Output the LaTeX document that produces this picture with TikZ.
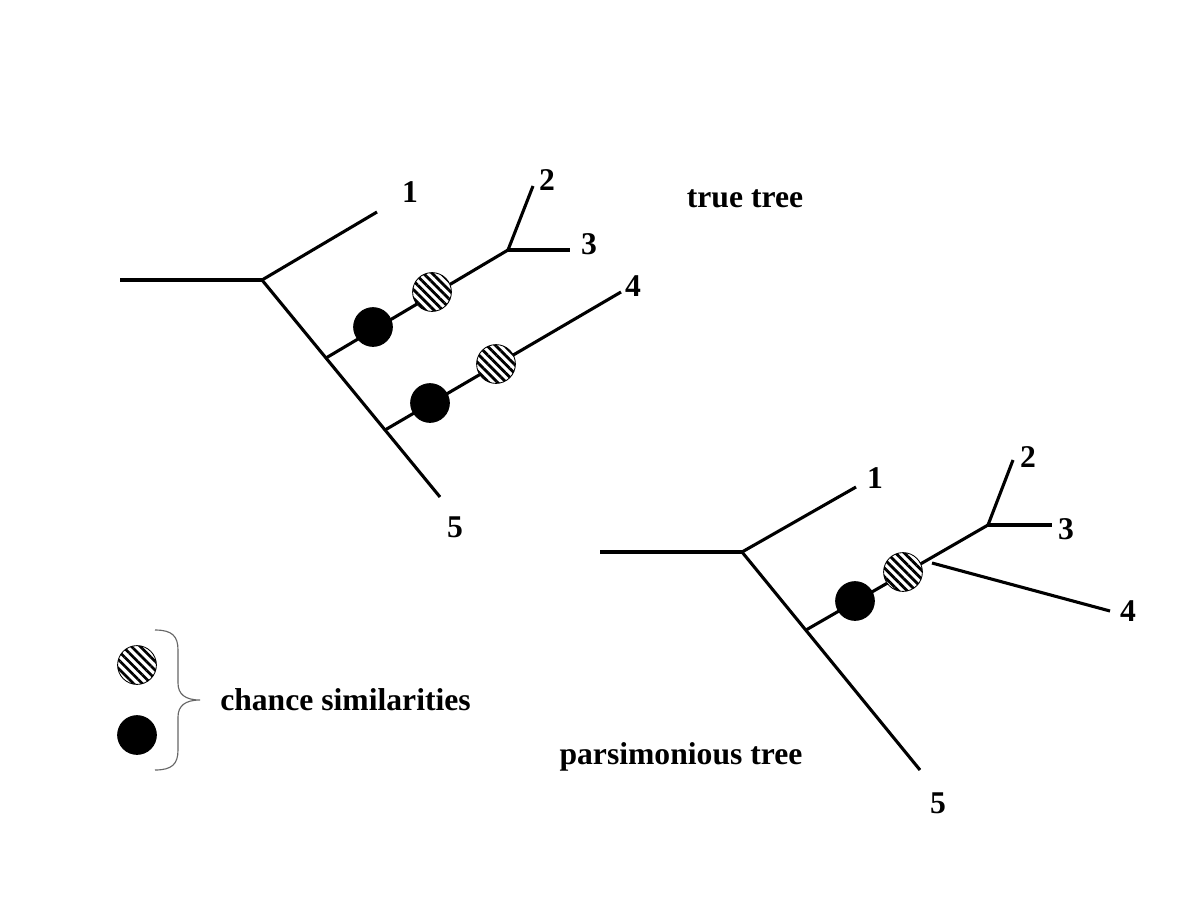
\documentclass[tikz,border=0pt]{standalone}
\usepackage{fontspec}
\setmainfont{Liberation Serif}
\usetikzlibrary{patterns.meta}
\begin{document}
\begin{tikzpicture}[x=0.025cm,y=-0.025cm,
  branch/.style={line width=2.2pt, line cap=butt},
  solidmark/.style={circle, fill=black, draw=black, line width=0.6pt, minimum size=0.97cm, inner sep=0pt},
  hatchmark/.style={circle, draw=black, line width=0.6pt, fill=white, minimum size=0.97cm, inner sep=0pt,
     postaction={pattern={Lines[angle=-45, distance=4.4pt, line width=2pt]}, pattern color=black}},
  lbl/.style={font=\fontsize{22.5}{26}\selectfont\bfseries, inner sep=0pt},
  brace/.style={draw=black!60, line width=0.8pt}]
\useasboundingbox (0,0) rectangle (1200,900);

% ---------- true tree ----------
\coordinate (tr0) at (120,280);
\coordinate (tr) at (262,280);
\coordinate (t1) at (377,212);
\coordinate (t5) at (440,497);
\coordinate (ta) at (326,358);
\coordinate (tn) at (508,250);
\coordinate (t2) at (533,186);
\coordinate (t3) at (570,250);
\coordinate (tb) at (385,430);
\coordinate (t4) at (621,292);
\draw[branch] (tr0) -- (tr);
\draw[branch] (tr) -- (t1);
\draw[branch] (tr) -- (t5);
\draw[branch] (ta) -- (tn);
\draw[branch] (tn) -- (t2);
\draw[branch] (tn) -- (t3);
\draw[branch] (tb) -- (t4);
\node[solidmark] (tsa) at (373,327) {};
\node[hatchmark] (tha) at (432,292) {};
\node[solidmark] (tsb) at (430,403) {};
\node[hatchmark] (thb) at (496,364) {};
\node[lbl] (tl1) at (410,192) {1};
\node[lbl] (tl2) at (547,180) {2};
\node[lbl] (tl3) at (589,244) {3};
\node[lbl] (tl4) at (633,286) {4};
\node[lbl] (tl5) at (455,527) {5};
\node[lbl] (ttitle) at (745,199) {true tree};

% ---------- parsimonious tree ----------
\coordinate (pr0) at (600,552);
\coordinate (pr) at (742,552);
\coordinate (p1) at (856,487);
\coordinate (p5) at (920,770);
\coordinate (pa) at (806,630);
\coordinate (pn) at (988,525);
\coordinate (p2) at (1013,460);
\coordinate (p3) at (1052,525);
\coordinate (pc) at (932,563);
\coordinate (p4) at (1110,611);
\draw[branch] (pr0) -- (pr);
\draw[branch] (pr) -- (p1);
\draw[branch] (pr) -- (p5);
\draw[branch] (pa) -- (pn);
\draw[branch] (pn) -- (p2);
\draw[branch] (pn) -- (p3);
\draw[branch] (pc) -- (p4);
\node[solidmark] (psa) at (855,601) {};
\node[hatchmark] (pha) at (903,572) {};
\node[lbl] (pl1) at (875,478) {1};
\node[lbl] (pl2) at (1028,457) {2};
\node[lbl] (pl3) at (1066,529) {3};
\node[lbl] (pl4) at (1128,611) {4};
\node[lbl] (pl5) at (938,803) {5};
\node[lbl] (ptitle) at (681,757) {parsimonious tree};

% ---------- legend ----------
\node[hatchmark] (lh) at (137,665) {};
\node[solidmark] (ls) at (137,735) {};
\coordinate (bt) at (155,630);
\coordinate (bm) at (200,700);
\coordinate (bb) at (155,770);
\draw[brace] (bt) .. controls (172,630) and (178,636) .. (178,650)
  -- (178,683) .. controls (178,694) and (185,700) .. (bm)
  .. controls (185,700) and (178,706) .. (178,717)
  -- (178,750) .. controls (178,764) and (172,770) .. (bb);
\node[lbl, anchor=west] (ltext) at (220,700) {chance similarities};
\end{tikzpicture}
\end{document}
